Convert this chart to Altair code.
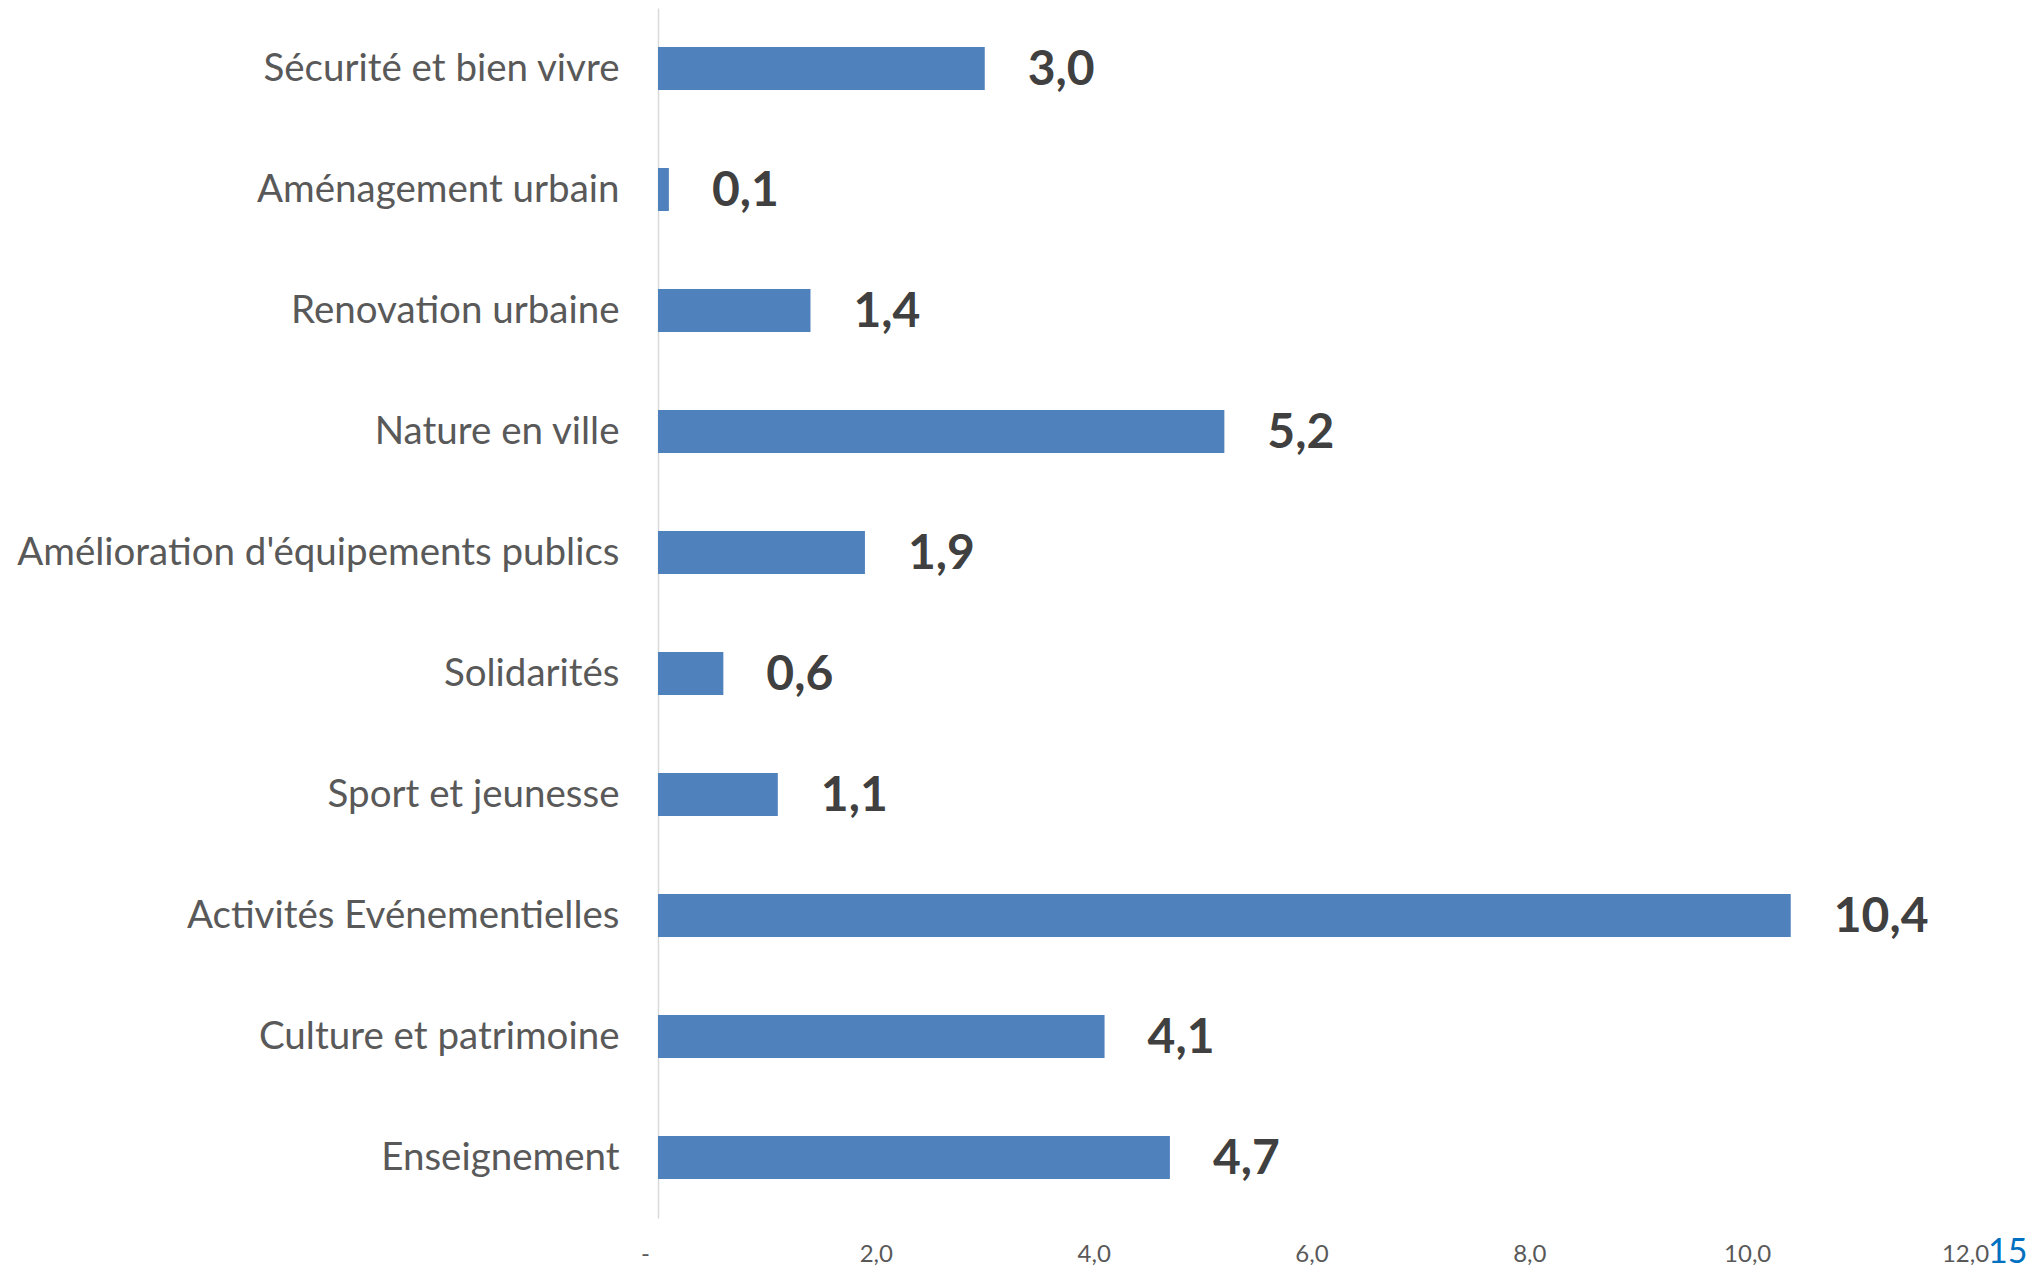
import altair as alt
import pandas as pd

categories = [
    "Sécurité et bien vivre",
    "Aménagement urbain",
    "Renovation urbaine",
    "Nature en ville",
    "Amélioration d'équipements publics",
    "Solidarités",
    "Sport et jeunesse",
    "Activités Evénementielles",
    "Culture et patrimoine",
    "Enseignement",
]
values = [3.0, 0.1, 1.4, 5.2, 1.9, 0.6, 1.1, 10.4, 4.1, 4.7]
x_ticks = [0, 2, 4, 6, 8, 10, 12]
page_number = ["15"]

df = pd.DataFrame({"category": categories, "value": values})

FONT = "Lato"
W, H = 1307, 1210

y_enc = alt.Y(
    "category:N",
    sort=None,
    title=None,
    scale=alt.Scale(paddingInner=0.645, paddingOuter=0.3225),
    axis=alt.Axis(
        ticks=False,
        labelPadding=39,
        labelFont=FONT,
        labelFontSize=38.5,
        labelColor="#595959",
        labelLimit=800,
        domainColor="#D9D9D9",
        domainWidth=1.5,
    ),
)

x_enc = alt.X(
    "value:Q",
    title=None,
    scale=alt.Scale(domain=[0, 12], nice=False),
    axis=alt.Axis(
        values=x_ticks,
        grid=False,
        ticks=False,
        domain=False,
        labelFlush=False,
        labelPadding=24,
        labelFont=FONT,
        labelFontSize=24,
        labelColor="#595959",
        labelOffset={"condition": {"test": "datum.value == 0", "value": -13}, "value": 0},
        labelExpr="datum.value == 0 ? '-' : replace(format(datum.value, '.1f'), '.', ',')",
    ),
)

bars = alt.Chart(df).mark_bar(color="#4F81BD").encode(y=y_enc, x=x_enc)

labels = (
    alt.Chart(df)
    .transform_calculate(label="replace(format(datum.value, '.1f'), '.', ',')")
    .mark_text(
        align="left",
        baseline="middle",
        dx=43,
        dy=2,
        font=FONT,
        fontSize=48,
        fontWeight="bold",
        color="#404040",
    )
    .encode(y=alt.Y("category:N", sort=None), x="value:Q", text="label:N")
)

page = (
    alt.Chart(pd.DataFrame({"t": page_number}))
    .mark_text(
        align="left",
        baseline="top",
        font=FONT,
        fontSize=34,
        color="#0070C0",
    )
    .encode(x=alt.value(1330), y=alt.value(1228), text="t:N")
)

chart = (
    alt.layer(bars, labels, page)
    .properties(
        width=W,
        height=H,
        autosize=alt.AutoSizeParams(type="none"),
        padding={"left": 650, "top": 0, "right": 68, "bottom": 52},
    )
    .configure(background="white")
    .configure_view(stroke=None, strokeWidth=0)
)

chart.save("out.html", embed_options={"renderer": "svg", "actions": False})
